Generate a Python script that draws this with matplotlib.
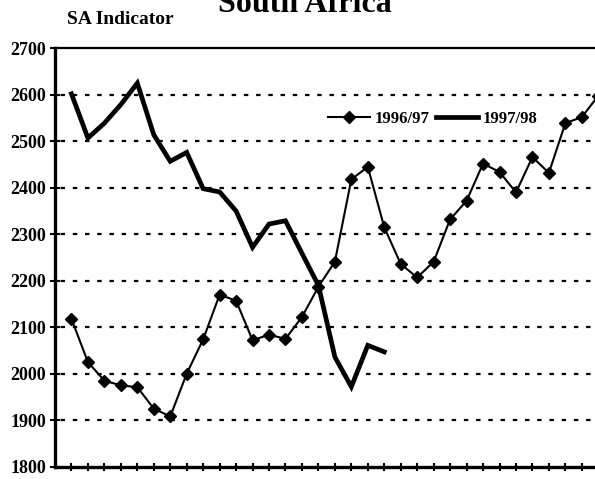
import matplotlib.pyplot as plt
from matplotlib.lines import Line2D

# SA Indicator values
s9697 = [2118, 2025, 1985, 1975, 1971, 1925, 1908, 2000, 2074, 2170, 2157,
         2072, 2084, 2075, 2122, 2187, 2241, 2418, 2445, 2315, 2236, 2207,
         2241, 2332, 2372, 2452, 2434, 2390, 2466, 2432, 2539, 2552, 2598]
s9798 = [2602, 2507, 2539, 2579, 2625, 2514, 2457, 2476, 2398, 2391, 2350,
         2272, 2322, 2329, 2259, 2190, 2036, 1972, 2061, 2047]
labels = ["1996/97", "1997/98"]
yticks = list(range(1800, 2701, 100))

plt.rcParams["font.family"] = ["Liberation Serif", "DejaVu Serif"]
plt.rcParams["font.weight"] = "bold"

W, H = 595, 479
fig = plt.figure(figsize=(W / 100, H / 100), dpi=100)
ax = fig.add_axes([55 / W, 1 - 466.7 / H, 1 - 55 / W, (466.7 - 48.3) / H])

x96 = list(range(len(s9697)))
x97 = list(range(len(s9798)))
ax.plot(x96, s9697, color="black", lw=1.5, marker="D", ms=6.5, zorder=4)
ax.plot(x97, s9798, color="black", lw=3.4, solid_joinstyle="miter", zorder=3)

ax.set_xlim(-1, 31.8)
ax.set_ylim(1800, 2700)
ax.set_yticks(yticks)
ax.set_xticks(range(0, 32))
ax.set_xticklabels([])

# dotted gridlines
for y in yticks[1:-1]:
    ax.axhline(y, color="black", lw=1.6, ls=(3, (2, 3.5)), zorder=1)

ax.spines["right"].set_visible(False)
ax.spines["left"].set_linewidth(2.4)
ax.spines["bottom"].set_linewidth(2.4)
ax.spines["top"].set_linewidth(1.6)

ax.tick_params(axis="y", direction="inout", length=7, width=1.5, labelsize=13, pad=3)
ax.tick_params(axis="x", direction="inout", length=6, width=1.5)

# Legend
h1 = Line2D([], [], color="black", lw=1.5, marker="D", ms=6.5)
h2 = Line2D([], [], color="black", lw=3.4)
ax.legend([h1, h2], labels, ncol=2, frameon=False, fontsize=12,
          loc="center left", bbox_to_anchor=(328 / W, 1 - 119 / H),
          bbox_transform=fig.transFigure, borderaxespad=0, borderpad=0,
          handlelength=2.5, handletextpad=0.3, columnspacing=0.4)

fig.text(305 / W, 1 - 12 / H, "South Africa", ha="center", va="baseline",
         fontsize=23, weight="bold")
fig.text(67 / W, 1 - 24 / H, "SA Indicator", ha="left", va="baseline",
         fontsize=14, weight="bold")

fig.savefig("out.png", dpi=100)
